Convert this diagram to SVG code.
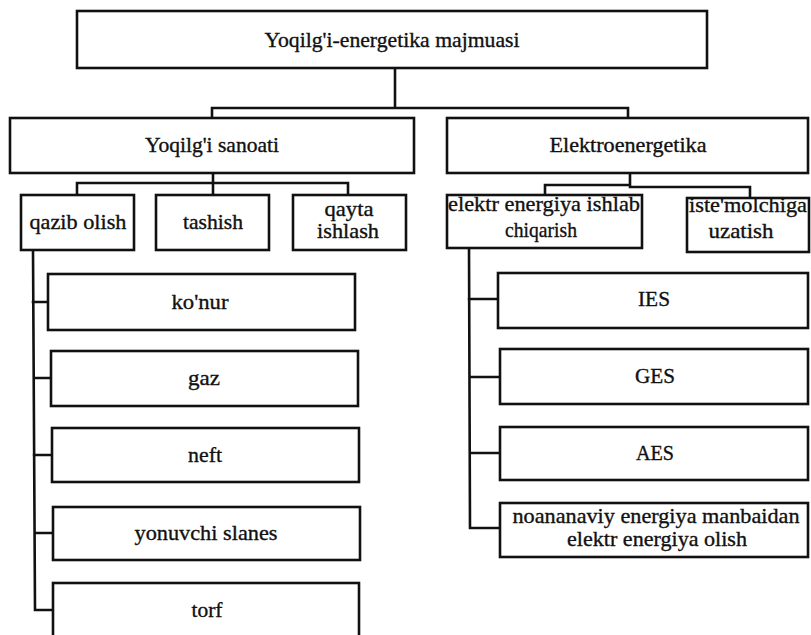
<svg xmlns="http://www.w3.org/2000/svg" width="811" height="635" viewBox="0 0 811 635">
<style>
.box{fill:#fff;stroke:#111;stroke-width:2.6}
.ln{fill:none;stroke:#111;stroke-width:2.6;stroke-linecap:square}
.t{font-family:'Liberation Serif','DejaVu Serif',serif;font-size:21.5px;fill:#111;text-anchor:middle;stroke:#111;stroke-width:0.35}
</style>
<rect width="811" height="635" fill="#fff"/>
<g id="connectors">
<path class="ln" d="M395,68 V108 M212,108 H628 M212,108 V118 M628,108 V118"/>
<path class="ln" d="M213,173 V183 M77,183 H348 M77,183 V195 M213,183 V195 M348,183 V195"/>
<path class="ln" d="M630,173 V185 M545,185 H630 M630,187 H750 M545,185 V195 M750,187 V198"/>
<path class="ln" d="M33,250 L35,610 M33,302 H48 M34,378 H51 M34,455 H52 M35,533 H53 M35,610 H53"/>
<path class="ln" d="M469,248 L470,528 M469,299 H498 M470,377 H500 M470,453 H500 M470,528 H500"/>
</g>
<g class="t" font-family="Liberation Serif, DejaVu Serif, serif">
<g id="n-top"><rect class="box" x="77" y="11" width="630" height="57"/><text x="392" y="47" textLength="255" lengthAdjust="spacingAndGlyphs">Yoqilg'i-energetika majmuasi</text></g>
<g id="n-yoqilgi"><rect class="box" x="10" y="118" width="404" height="55"/><text x="212" y="152" textLength="134" lengthAdjust="spacingAndGlyphs">Yoqilg'i sanoati</text></g>
<g id="n-elektro"><rect class="box" x="447" y="118" width="361" height="55"/><text x="628" y="152" textLength="157" lengthAdjust="spacingAndGlyphs">Elektroenergetika</text></g>
<g id="n-qazib"><rect class="box" x="21" y="195" width="113" height="55"/><text x="78" y="229" textLength="97" lengthAdjust="spacingAndGlyphs">qazib olish</text></g>
<g id="n-tashish"><rect class="box" x="156" y="195" width="113" height="55"/><text x="213" y="229" textLength="60" lengthAdjust="spacingAndGlyphs">tashish</text></g>
<g id="n-qayta"><rect class="box" x="293" y="195" width="113" height="55"/><text x="349" y="216" textLength="49" lengthAdjust="spacingAndGlyphs">qayta</text><text x="348" y="238" textLength="62" lengthAdjust="spacingAndGlyphs">ishlash</text></g>
<g id="n-ishlab"><rect class="box" x="447" y="195" width="195" height="53"/><text x="544" y="211" textLength="192" lengthAdjust="spacingAndGlyphs">elektr energiya ishlab</text><text x="541" y="237" textLength="72" lengthAdjust="spacingAndGlyphs">chiqarish</text></g>
<g id="n-uzatish"><rect class="box" x="687" y="198" width="122" height="54"/><text x="748" y="212" textLength="118" lengthAdjust="spacingAndGlyphs">iste'molchiga</text><text x="741" y="238" textLength="65" lengthAdjust="spacingAndGlyphs">uzatish</text></g>
<g id="n-konur"><rect class="box" x="48" y="274" width="307" height="56"/><text x="200" y="309" textLength="57" lengthAdjust="spacingAndGlyphs">ko'nur</text></g>
<g id="n-gaz"><rect class="box" x="51" y="351" width="307" height="55"/><text x="204" y="385" textLength="32" lengthAdjust="spacingAndGlyphs">gaz</text></g>
<g id="n-neft"><rect class="box" x="52" y="428" width="307" height="54"/><text x="205" y="462" textLength="34" lengthAdjust="spacingAndGlyphs">neft</text></g>
<g id="n-slanes"><rect class="box" x="53" y="507" width="307" height="53"/><text x="206" y="540" textLength="143" lengthAdjust="spacingAndGlyphs">yonuvchi slanes</text></g>
<g id="n-torf"><rect class="box" x="53" y="583" width="306" height="70"/><text x="207" y="617" textLength="31" lengthAdjust="spacingAndGlyphs">torf</text></g>
<g id="n-ies"><rect class="box" x="498" y="273" width="310" height="55"/><text x="654" y="306" textLength="32" lengthAdjust="spacingAndGlyphs">IES</text></g>
<g id="n-ges"><rect class="box" x="500" y="349" width="308" height="55"/><text x="655" y="383" textLength="40" lengthAdjust="spacingAndGlyphs">GES</text></g>
<g id="n-aes"><rect class="box" x="500" y="427" width="308" height="53"/><text x="655" y="460" textLength="38" lengthAdjust="spacingAndGlyphs">AES</text></g>
<g id="n-noan"><rect class="box" x="500" y="503" width="308" height="54"/><text x="656" y="523" textLength="287" lengthAdjust="spacingAndGlyphs">noananaviy energiya manbaidan</text><text x="657" y="546" textLength="180" lengthAdjust="spacingAndGlyphs">elektr energiya olish</text></g>
</g>
</svg>
